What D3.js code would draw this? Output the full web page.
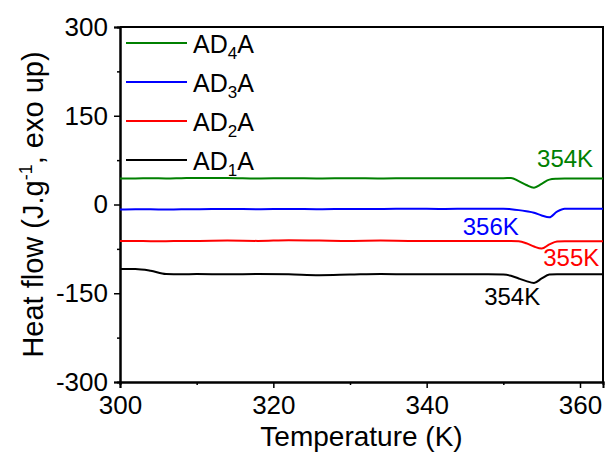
<!DOCTYPE html>
<html>
<head>
<meta charset="utf-8">
<script src="https://cdn.jsdelivr.net/npm/d3@7"></script>
<style>
  body { margin: 0; background: #fff; }
  svg { display: block; font-family: "Liberation Sans", Arial, sans-serif; }
</style>
</head>
<body>
<svg id="chart"></svg>
<script>
// temperature grid (K), shared by all four curves
const temps = [300, 302, 304, 306, 308, 310, 314, 318, 322, 326, 330, 334, 338, 342, 346, 348,
               350, 351, 352, 353, 354, 355, 356, 357, 358, 360, 363]

// heat flow (J/g)
const ad4a = [44, 44, 44.5, 44, 44.5, 45, 45, 44, 44.5, 44, 44.5, 44, 44.5, 44.5, 44.5, 44.5,
              44.5, 45, 39.5, 33, 28.5, 35, 42, 43.5, 44, 44, 44]
const ad3a = [-8.5, -8, -8, -8.5, -8, -8, -7.5, -8, -7.5, -8, -7.5, -7.5, -7, -7.5, -7, -7,
              -7, -8, -9.5, -11.5, -14, -18.5, -21.5, -12, -7, -7, -7]
const ad2a = [-61.5, -61.5, -62, -62, -61.5, -61.5, -61, -61.5, -60.5, -61, -61.5, -61, -61.5, -61.5, -61.5, -61.5,
              -61.5, -61.5, -62, -65.5, -71, -74.5, -67.5, -62.5, -62, -62, -62]
const ad1a = [-109, -109, -112, -117.5, -118, -117.5, -118, -117.5, -118, -119.5, -118.5, -117.5, -118, -118, -118, -118,
              -118.5, -120.5, -125, -129.5, -132.5, -125, -118.5, -118, -118, -118, -118]

const seriesSub = ["4", "3", "2", "1"]
const seriesValues = [ad4a, ad3a, ad2a, ad1a]
const seriesColors = ["#008000", "#0000ff", "#ff0000", "#000000"]

// peak annotations
const peakText = ["354K", "356K", "355K", "354K"]
const peakT = [354.4, 344.7, 355.2, 347.5]
const peakFlow = [63, -52, -103.5, -170]

const xMajor = [300, 320, 340, 360]
const xMinor = [310, 330, 350]
const yMajor = [-300, -150, 0, 150, 300]
const yMinor = [-225, -75, 75, 225]

const width = 606
const height = 452
const margin = { top: 27, right: 3, bottom: 70, left: 120 }

const svg = d3.select("#chart")
    .attr("width", width)
    .attr("height", height)

const x = d3.scaleLinear().domain([300, 363]).range([margin.left, width - margin.right])
const y = d3.scaleLinear().domain([-300, 300]).range([height - margin.bottom, margin.top])

// minor ticks first, so the major axis sits on top
svg.append("g")
    .attr("transform", `translate(0,${height - margin.bottom})`)
    .call(d3.axisBottom(x).tickValues(xMinor).tickSize(3).tickFormat(""))
svg.append("g")
    .attr("transform", `translate(${margin.left},0)`)
    .call(d3.axisLeft(y).tickValues(yMinor).tickSize(3).tickFormat(""))

svg.append("g")
    .attr("transform", `translate(0,${height - margin.bottom})`)
    .call(d3.axisBottom(x).tickValues(xMajor).tickSize(6).tickPadding(8).tickFormat(d => String(d)))
svg.append("g")
    .attr("transform", `translate(${margin.left},0)`)
    .call(d3.axisLeft(y).tickValues(yMajor).tickSize(6).tickPadding(6).tickFormat(d => String(d)))

svg.selectAll(".domain").attr("stroke", "#000").attr("stroke-width", 2)
svg.selectAll(".tick line").attr("stroke", "#000").attr("stroke-width", 1.5)
svg.selectAll(".tick text").attr("font-size", 26).attr("fill", "#000").attr("font-family", "Liberation Sans, Arial, sans-serif")

// top and right frame
svg.append("path")
    .attr("d", `M${x(300)},${y(300)}H${x(363)}V${y(-300)}`)
    .attr("fill", "none")
    .attr("stroke", "#000")
    .attr("stroke-width", 2)

// curves
const line = d3.line()
    .x((d, i) => x(temps[i]))
    .y(d => y(d))
    .curve(d3.curveMonotoneX)

svg.selectAll(".curve")
    .data(seriesValues)
    .enter()
    .append("path")
    .attr("class", "curve")
    .attr("d", d => line(d))
    .attr("fill", "none")
    .attr("stroke", (d, i) => seriesColors[i])
    .attr("stroke-width", 2)

// peak labels
svg.selectAll(".peak")
    .data(peakText)
    .enter()
    .append("text")
    .attr("class", "peak")
    .attr("x", (d, i) => x(peakT[i]))
    .attr("y", (d, i) => y(peakFlow[i]))
    .attr("font-size", 24)
    .attr("fill", (d, i) => seriesColors[i])
    .text(d => d)

// legend
const rows = svg.append("g").selectAll("g")
    .data(seriesSub)
    .enter()
    .append("g")
    .attr("transform", (d, i) => `translate(126,${43 + i * 39})`)

rows.append("line")
    .attr("x1", 0).attr("x2", 61)
    .attr("stroke", (d, i) => seriesColors[i])
    .attr("stroke-width", 2)

const labels = rows.append("text")
    .attr("x", 67)
    .attr("y", 10)
    .attr("font-size", 25)
    .attr("fill", "#000")
labels.append("tspan").text("AD")
labels.append("tspan").attr("font-size", 17).attr("dy", 6).text(d => d)
labels.append("tspan").attr("dy", -6).text("A")

// axis titles
svg.append("text")
    .attr("x", (x(300) + x(363)) / 2)
    .attr("y", 446)
    .attr("text-anchor", "middle")
    .attr("font-size", 28)
    .text("Temperature (K)")

const yTitle = svg.append("text")
    .attr("transform", `translate(43,${(y(300) + y(-300)) / 2}) rotate(-90)`)
    .attr("text-anchor", "middle")
    .attr("font-size", 29)
yTitle.append("tspan").text("Heat flow (J.g")
yTitle.append("tspan").attr("font-size", 18).attr("dy", -11).text("-1")
yTitle.append("tspan").attr("dy", 11).text(", exo up)")
</script>
</body>
</html>
